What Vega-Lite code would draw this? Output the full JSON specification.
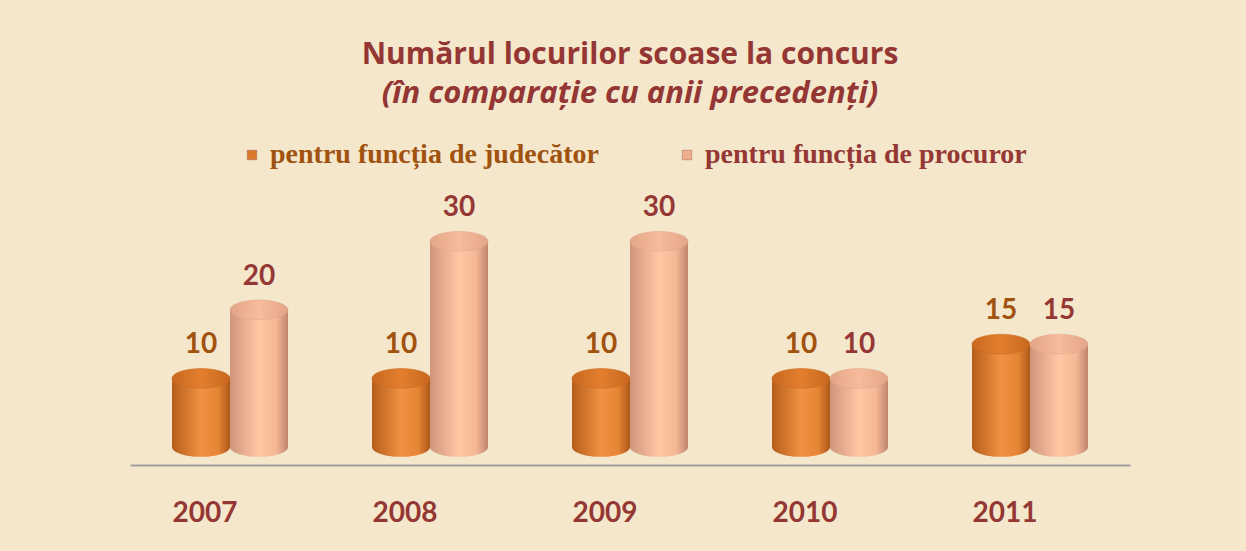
{
  "$schema": "https://vega.github.io/schema/vega-lite/v6.json",
  "width": 1000,
  "height": 240,
  "autosize": "none",
  "padding": {"left": 130, "top": 207, "right": 116, "bottom": 104},
  "background": "#F4E7CB",
  "title": {
    "text": "Numărul locurilor scoase la concurs",
    "subtitle": "(în comparație cu anii precedenți)",
    "font": "Open Sans", "fontSize": 30, "fontWeight": "bold", "color": "#943634",
    "subtitleFont": "Open Sans", "subtitleFontSize": 31, "subtitleFontStyle": "italic",
    "subtitleFontWeight": "bold", "subtitleColor": "#943634", "subtitlePadding": 9,
    "anchor": "middle", "frame": "group", "offset": 32
  },
  "config": {"view": {"stroke": null}},
  "data": {"values": [
    {"year": "2007", "series": "pentru funcția de judecător", "value": 10},
    {"year": "2007", "series": "pentru funcția de procuror", "value": 20},
    {"year": "2008", "series": "pentru funcția de judecător", "value": 10},
    {"year": "2008", "series": "pentru funcția de procuror", "value": 30},
    {"year": "2009", "series": "pentru funcția de judecător", "value": 10},
    {"year": "2009", "series": "pentru funcția de procuror", "value": 30},
    {"year": "2010", "series": "pentru funcția de judecător", "value": 10},
    {"year": "2010", "series": "pentru funcția de procuror", "value": 10},
    {"year": "2011", "series": "pentru funcția de judecător", "value": 15},
    {"year": "2011", "series": "pentru funcția de procuror", "value": 15}
  ]},
  "encoding": {
    "x": {"field": "year", "type": "nominal",
      "scale": {"paddingInner": 0.42, "paddingOuter": 0.21},
      "axis": {"title": null, "labelAngle": 0, "ticks": false, "domainColor": "#A0A0A0", "domainWidth": 2,
        "offset": 18, "labelPadding": 34, "labelOffset": -25, "labelFont": "Lato", "labelFontWeight": "bold",
        "labelFontSize": 28, "labelColor": "#953735", "grid": false}},
    "xOffset": {"field": "series", "type": "nominal", "scale": {"paddingInner": 0, "paddingOuter": 0}},
    "y": {"field": "value", "type": "quantitative", "scale": {"domain": [0, 35]}, "axis": null}
  },
  "layer": [
    {
      "mark": {"type": "bar"},
      "encoding": {
        "color": {"field": "series", "type": "nominal",
          "scale": {"domain": ["pentru funcția de judecător", "pentru funcția de procuror"], "range": ["#DC7A2C", "#F2AE8C"]},
          "legend": {"title": null, "orient": "none", "legendX": 108, "legendY": -66, "direction": "horizontal",
            "symbolType": "square", "symbolSize": 90, "symbolStrokeColor": "#9a6a50", "symbolStrokeWidth": 0.5,
            "labelFont": "Liberation Serif", "labelFontWeight": "bold", "labelFontSize": 28, "labelLimit": 600,
            "columnPadding": 74, "labelOffset": 4,
            "encode": {"labels": {"update": {"fill": {"signal": "datum.label === 'pentru funcția de judecător' ? '#A0520F' : '#953735'"}}}}}}
      }
    },
    {
      "transform": [{"filter": "datum.series === 'pentru funcția de judecător'"}],
      "mark": {"type": "point", "filled": true, "opacity": 1, "size": 3364,
        "shape": "M -1 0 A 1 0.34 0 1 0 1 0 A 1 0.34 0 1 0 -1 0 Z",
        "fill": {"gradient": "linear", "x1": 0, "y1": 0, "x2": 1, "y2": 0, "stops": [
          {"offset": 0, "color": "#B55E1B"}, {"offset": 0.5, "color": "#F29142"}, {"offset": 0.8, "color": "#E58433"}, {"offset": 1, "color": "#AE5719"}]}},
      "encoding": {"y": {"datum": 0}}
    },
    {
      "transform": [{"filter": "datum.series === 'pentru funcția de procuror'"}],
      "mark": {"type": "point", "filled": true, "opacity": 1, "size": 3364,
        "shape": "M -1 0 A 1 0.34 0 1 0 1 0 A 1 0.34 0 1 0 -1 0 Z",
        "fill": {"gradient": "linear", "x1": 0, "y1": 0, "x2": 1, "y2": 0, "stops": [
          {"offset": 0, "color": "#CF957B"}, {"offset": 0.5, "color": "#FFC7A4"}, {"offset": 0.8, "color": "#F4B796"}, {"offset": 1, "color": "#BD866D"}]}},
      "encoding": {"y": {"datum": 0}}
    },
    {
      "transform": [{"filter": "datum.series === 'pentru funcția de judecător'"}],
      "mark": {"type": "bar",
        "fill": {"gradient": "linear", "x1": 0, "y1": 0, "x2": 1, "y2": 0, "stops": [
          {"offset": 0, "color": "#B55E1B"}, {"offset": 0.5, "color": "#F29142"}, {"offset": 0.8, "color": "#E58433"}, {"offset": 1, "color": "#AE5719"}]}}
    },
    {
      "transform": [{"filter": "datum.series === 'pentru funcția de procuror'"}],
      "mark": {"type": "bar",
        "fill": {"gradient": "linear", "x1": 0, "y1": 0, "x2": 1, "y2": 0, "stops": [
          {"offset": 0, "color": "#CF957B"}, {"offset": 0.5, "color": "#FFC7A4"}, {"offset": 0.8, "color": "#F4B796"}, {"offset": 1, "color": "#BD866D"}]}}
    },
    {
      "transform": [{"filter": "datum.series === 'pentru funcția de judecător'"}],
      "mark": {"type": "point", "filled": true, "opacity": 1, "size": 3364, "stroke": "#C86A22", "strokeWidth": 0.5,
        "shape": "M -1 0 A 1 0.34 0 1 0 1 0 A 1 0.34 0 1 0 -1 0 Z",
        "fill": {"gradient": "linear", "x1": 0, "y1": 0, "x2": 1, "y2": 0, "stops": [
          {"offset": 0, "color": "#C8681F"}, {"offset": 0.5, "color": "#E47E2E"}, {"offset": 1, "color": "#C8681F"}]}}
    },
    {
      "transform": [{"filter": "datum.series === 'pentru funcția de procuror'"}],
      "mark": {"type": "point", "filled": true, "opacity": 1, "size": 3364, "stroke": "#E0A488", "strokeWidth": 0.5,
        "shape": "M -1 0 A 1 0.34 0 1 0 1 0 A 1 0.34 0 1 0 -1 0 Z",
        "fill": {"gradient": "linear", "x1": 0, "y1": 0, "x2": 1, "y2": 0, "stops": [
          {"offset": 0, "color": "#E3A587"}, {"offset": 0.5, "color": "#F7BC9C"}, {"offset": 1, "color": "#E3A587"}]}}
    },
    {
      "transform": [{"filter": "datum.series === 'pentru funcția de judecător'"}],
      "mark": {"type": "text", "font": "Lato", "fontWeight": "bold", "fontSize": 28, "color": "#A0520F", "baseline": "middle", "dy": -33},
      "encoding": {"text": {"field": "value", "type": "quantitative"}}
    },
    {
      "transform": [{"filter": "datum.series === 'pentru funcția de procuror'"}],
      "mark": {"type": "text", "font": "Lato", "fontWeight": "bold", "fontSize": 28, "color": "#953735", "baseline": "middle", "dy": -33},
      "encoding": {"text": {"field": "value", "type": "quantitative"}}
    }
  ]
}
